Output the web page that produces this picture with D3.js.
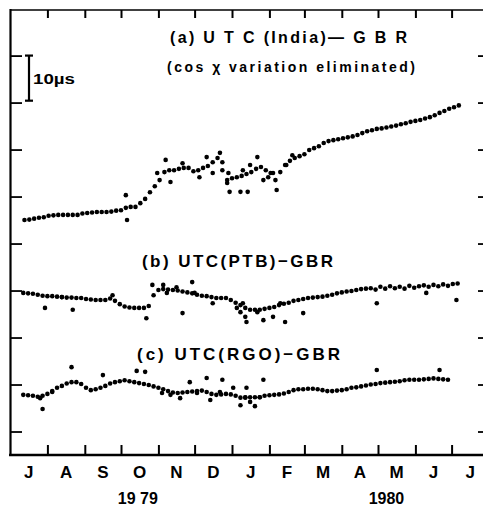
<!DOCTYPE html>
<html lang="en">
  <head>
    <title>UTC - GBR</title>
    <script src="https://cdn.jsdelivr.net/npm/d3@7/dist/d3.min.js"></script>
    <style>
      body { margin: 0; background: #fff; }
    </style>
  </head>
  <body>
    <div id="chart"></div>
    <script>
      // month labels along the bottom, one per month from Jul 1979
      const month_labels = ['J','A','S','O','N','D','J','F','M','A','M','J','J'];
      const year_labels = [['19 79', '1979-10-15'], ['1980', '1980-05-08']];
      const y_ticks = [0, 10, 20, 30, 40, 50, 60, 70, 80];
      const step_days = 4;

      // (a) UTC(India) - GBR, one reading every 4 days
      const start_a = '1979-07-13';
      const values_a = [
        45.0,45.1,45.3,45.5,45.6,45.9,46.0,46.1,46.1,46.1,46.1,46.1,
        46.4,46.5,46.6,46.7,46.7,46.7,46.8,47.0,47.1,47.6,47.8,47.8,
        48.6,49.5,50.9,52.2,53.5,55.2,55.6,55.6,55.9,56.1,56.1,55.4,
        55.6,56.1,56.5,57.3,58.2,55.6,53.5,53.9,54.1,54.4,54.8,55.2,
        55.9,56.3,55.6,55.0,53.5,55.2,56.7,57.6,58.2,58.6,59.0,59.9,
        60.3,60.7,61.4,61.8,62.0,62.2,62.4,62.6,62.8,63.1,63.5,63.9,
        64.1,64.4,64.5,64.7,64.9,65.1,65.4,65.6,65.9,66.1,66.3,66.6,
        66.9,67.3,67.8,68.2,68.7,69.0,69.4
      ];
      const scatter_a = [
        ['1979-10-05',50.3],['1979-10-06',45.0],['1979-10-31',55.0],['1979-11-07',57.8],
        ['1979-11-11',53.1],['1979-11-21',57.1],['1979-12-05',54.1],['1979-12-11',58.4],
        ['1979-12-16',55.0],['1979-12-22',59.3],['1979-12-24',57.3],['1979-12-29',55.0],
        ['1979-12-28',52.9],['1979-12-30',51.0],['1980-01-08',51.0],['1980-01-14',51.0],
        ['1980-01-10',55.6],['1980-01-16',56.7],['1980-01-22',58.4],['1980-01-27',53.5],
        ['1980-01-31',54.1],['1980-02-04',55.0],['1980-02-07',51.4],['1980-02-15',56.7],
        ['1980-02-20',58.8]
      ];

      // (b) UTC(PTB) - GBR
      const start_b = '1979-07-12';
      const values_b = [
        29.5,29.4,29.3,29.1,28.9,28.8,28.8,28.7,28.6,28.5,28.5,28.4,
        28.4,28.2,28.1,28.0,28.0,28.0,28.3,27.8,27.1,26.6,26.4,26.3,
        26.3,26.3,26.7,29.0,30.1,30.3,30.2,30.1,30.0,29.8,29.6,29.4,
        29.1,28.9,28.8,28.6,28.4,28.4,28.4,28.0,27.4,26.9,26.3,25.9,
        25.9,25.9,26.1,26.3,26.5,26.9,27.2,27.4,27.8,28.0,28.2,28.4,
        28.5,28.6,28.7,28.9,29.1,29.4,29.6,29.8,29.9,30.1,30.3,30.4,
        30.5,30.2,30.8,30.4,30.9,30.5,30.8,30.4,31.0,30.6,30.9,31.1,
        30.8,31.2,30.9,31.3,31.0,31.4,31.5
      ];
      const scatter_b = [
        ['1979-07-30',26.3],['1979-08-13',28.6],['1979-08-22',25.9],['1979-09-24',29.0],
        ['1979-10-22',24.1],['1979-10-27',31.2],['1979-11-05',31.2],['1979-11-08',29.5],
        ['1979-11-16',30.7],['1979-11-21',25.2],['1979-11-29',31.8],['1979-12-01',29.5],
        ['1979-12-16',27.3],['1980-01-05',26.3],['1980-01-08',25.4],['1980-01-10',27.3],
        ['1980-01-13',23.3],['1980-01-12',24.4],['1980-01-22',25.4],['1980-01-27',23.7],
        ['1980-02-04',24.4],['1980-02-10',27.3],['1980-02-14',23.3],['1980-02-29',25.2],
        ['1980-04-30',27.3],['1980-06-10',29.5],['1980-07-05',28.0]
      ];

      // (c) UTC(RGO) - GBR
      const start_c = '1979-07-12';
      const values_c = [
        7.8,7.7,7.6,7.4,7.6,8.0,8.6,9.3,9.7,10.2,10.5,10.5,
        10.1,9.3,8.8,9.0,9.3,9.7,10.2,10.5,10.7,10.9,10.7,10.5,
        10.3,10.1,9.9,9.6,9.3,9.0,8.6,8.3,8.2,8.3,8.4,8.5,
        8.6,8.7,8.4,8.0,7.8,7.9,8.0,7.9,7.6,7.2,7.2,7.3,
        7.3,7.3,7.6,7.7,7.8,7.9,8.1,8.4,8.8,9.0,9.0,9.1,
        9.1,9.0,8.8,8.6,8.6,8.7,8.8,9.0,9.3,9.4,9.6,9.8,
        10.0,10.1,10.3,10.4,10.5,10.6,10.7,10.9,11.0,11.0,11.0,11.1,
        11.2,11.3,11.2,11.1,11.0
      ];
      const scatter_c = [
        ['1979-07-26',7.1],['1979-07-28',4.8],['1979-08-05',8.4],['1979-08-21',13.7],
        ['1979-09-16',12.0],['1979-10-14',12.9],['1979-10-21',12.7],['1979-11-04',8.2],
        ['1979-11-11',7.8],['1979-11-19',7.1],['1979-11-27',10.5],['1979-12-03',8.2],
        ['1979-12-11',11.4],['1979-12-14',6.7],['1979-12-22',8.4],['1979-12-24',11.0],
        ['1980-01-02',9.3],['1980-01-08',5.6],['1980-01-12',7.3],['1980-01-13',9.3],
        ['1980-01-16',6.3],['1980-01-20',5.4],['1980-01-24',7.3],['1980-01-27',11.0],
        ['1980-04-30',13.1],['1980-06-21',13.1]
      ];

      let parse = d3.timeParse('%Y-%m-%d');
      let width = 483, height = 508;
      let t0 = new Date(1979, 6, 1), t1 = new Date(1980, 7, 1);

      let svg = d3.select('#chart').append('svg')
        .attr('width', width)
        .attr('height', height)
        .style('font-family', 'Liberation Sans, Arial, sans-serif');

      let scale_x = d3.scaleTime().domain([t0, t1]).range([10, 489]);
      let scale_y = d3.scaleLinear().domain([-5, 89.7]).range([455, 10]);

      // frame
      svg.append('line').attr('x1', 10).attr('x2', 489).attr('y1', 10).attr('y2', 10)
        .attr('stroke', '#000').attr('stroke-width', 1.4);
      svg.append('line').attr('x1', 10.5).attr('x2', 10.5).attr('y1', 9).attr('y2', 456)
        .attr('stroke', '#000').attr('stroke-width', 2.2);
      svg.append('line').attr('x1', 9).attr('x2', 489).attr('y1', 455).attr('y2', 455)
        .attr('stroke', '#000').attr('stroke-width', 2.5);

      let months = d3.timeMonth.range(t0, t1);
      let inner_months = months.slice(1);

      let x_bottom = d3.axisBottom(scale_x).tickValues(inner_months).tickSize(-10).tickFormat('');
      svg.append('g').attr('transform', 'translate(0,455)').call(x_bottom)
        .call(g => g.select('.domain').remove())
        .selectAll('line').attr('stroke-width', 2);

      let x_top = d3.axisTop(scale_x).tickValues(inner_months).tickSize(-8).tickFormat('');
      svg.append('g').attr('transform', 'translate(0,10)').call(x_top)
        .call(g => g.select('.domain').remove())
        .selectAll('line').attr('stroke-width', 2);

      let y_left = d3.axisRight(scale_y).tickValues(y_ticks).tickSize(12).tickFormat('');
      svg.append('g').attr('transform', 'translate(10,0)').call(y_left)
        .call(g => g.select('.domain').remove())
        .selectAll('line').attr('stroke-width', 1.8);

      let y_right = d3.axisLeft(scale_y).tickValues(y_ticks).tickSize(11).tickFormat('');
      svg.append('g').attr('transform', 'translate(489,0)').call(y_right)
        .call(g => g.select('.domain').remove())
        .selectAll('line').attr('stroke-width', 1.8);

      // month + year labels
      svg.selectAll('text.month')
        .data(months)
        .enter()
        .append('text')
        .attr('class', 'month')
        .attr('x', (d) => (scale_x(d) + scale_x(d3.timeMonth.offset(d, 1))) / 2)
        .attr('y', 478)
        .attr('text-anchor', 'middle')
        .attr('font-size', '17px')
        .attr('font-weight', 'bold')
        .text((d, i) => month_labels[i]);

      svg.selectAll('text.year')
        .data(year_labels)
        .enter()
        .append('text')
        .attr('class', 'year')
        .attr('x', (d) => scale_x(parse(d[1])))
        .attr('y', 504)
        .attr('text-anchor', 'middle')
        .attr('font-size', '16px')
        .attr('font-weight', 'bold')
        .text((d) => d[0]);

      // series dots
      let series = [
        [start_a, values_a, scatter_a],
        [start_b, values_b, scatter_b],
        [start_c, values_c, scatter_c]
      ];
      series.forEach(([start, values, scatter]) => {
        let s = parse(start);
        let pts = values.map((v, i) => [d3.timeDay.offset(s, i * step_days), v])
          .concat(scatter.map((d) => [parse(d[0]), d[1]]));
        svg.append('g')
          .selectAll('circle')
          .data(pts)
          .enter()
          .append('circle')
          .attr('cx', (d) => scale_x(d[0]))
          .attr('cy', (d) => scale_y(d[1]))
          .attr('r', 2.3)
          .attr('fill', '#000');
      });

      // 10 us scale bar
      let bar = svg.append('g').attr('stroke', '#000').attr('stroke-width', 2.2);
      bar.append('line').attr('x1', 29).attr('x2', 29).attr('y1', scale_y(80)).attr('y2', scale_y(70.4));
      bar.append('line').attr('x1', 25).attr('x2', 33).attr('y1', scale_y(80)).attr('y2', scale_y(80));
      bar.append('line').attr('x1', 25).attr('x2', 33).attr('y1', scale_y(70.4)).attr('y2', scale_y(70.4));
      svg.append('text').attr('x', 33).attr('y', 84)
        .attr('font-size', '14px').attr('font-weight', 'bold')
        .attr('textLength', 42).attr('lengthAdjust', 'spacingAndGlyphs')
        .text('10µs');

      // panel titles
      let titles = [
        ['(a) U T C (India)\u2014 G B R', 170, 43, 237, 16, 'bold'],
        ['(cos \u03c7 variation eliminated)', 167, 72, 248, 14, 'bold'],
        ['(b) UTC(PTB)\u2212GBR', 142, 267, 191, 17, 'bold'],
        ['(c) UTC(RGO)\u2212GBR', 137, 360, 203, 17, 'bold']
      ];
      svg.selectAll('text.title')
        .data(titles)
        .enter()
        .append('text')
        .attr('class', 'title')
        .attr('x', (d) => d[1])
        .attr('y', (d) => d[2])
        .attr('textLength', (d) => d[3])
        .attr('lengthAdjust', 'spacing')
        .attr('font-size', (d) => d[4] + 'px')
        .attr('font-weight', (d) => d[5])
        .text((d) => d[0]);
    </script>
  </body>
</html>
